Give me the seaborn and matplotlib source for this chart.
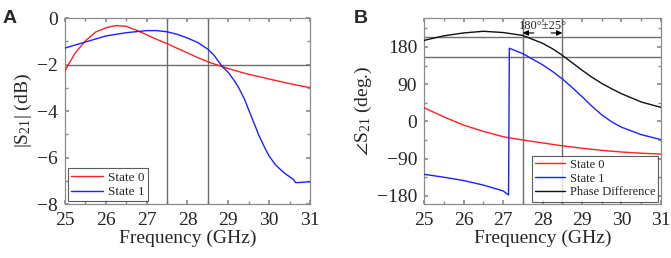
import numpy as np
import pandas as pd
import matplotlib
matplotlib.use("Agg")
import matplotlib.pyplot as plt
from matplotlib.ticker import MultipleLocator
import seaborn as sns

# ---- data ----
f_mag0 = [25.0, 25.25, 25.5, 25.75, 26.0, 26.25, 26.5, 26.75, 27.0, 27.25, 27.5, 27.75, 28.0,
          28.25, 28.5, 28.75, 29.0, 29.25, 29.5, 29.75, 30.0, 30.25, 30.5, 30.75, 31.0]
mag_state0 = [-2.26, -1.5, -0.98, -0.6, -0.42, -0.32, -0.36, -0.52, -0.72, -0.92, -1.1, -1.3, -1.5,
              -1.7, -1.88, -2.03, -2.17, -2.3, -2.42, -2.52, -2.62, -2.72, -2.82, -2.91, -2.99]
f_mag1 = [25.0, 25.5, 26.0, 26.5, 27.0, 27.25, 27.5, 27.75, 28.0, 28.25, 28.5, 28.65, 28.85, 29.0,
          29.15, 29.25, 29.4, 29.5, 29.65, 29.75, 29.9, 30.0, 30.15, 30.25, 30.4, 30.5, 30.6, 30.65,
          30.75, 31.0]
mag_state1 = [-1.29, -1.03, -0.77, -0.63, -0.54, -0.54, -0.59, -0.7, -0.86, -1.05, -1.34, -1.6,
              -2.08, -2.34, -2.7, -2.98, -3.5, -3.95, -4.6, -5.05, -5.6, -5.93, -6.3, -6.47, -6.7,
              -6.82, -6.95, -7.08, -7.07, -7.04]

f_ph0 = [25.0, 25.5, 26.0, 26.5, 27.0, 27.5, 28.0, 28.5, 29.0, 29.5, 30.0, 30.5, 31.0]
ph_state0 = [33, 11, -9, -24, -37, -45, -52, -59, -65, -70, -74, -77, -79]
f_ph1 = [25.0, 25.5, 26.0, 26.5, 27.0, 27.14, 27.16, 27.5, 28.0, 28.25, 28.5, 28.75, 29.0, 29.25,
         29.5, 29.75, 30.0, 30.5, 31.0]
ph_state1 = [-128, -135, -143, -154, -168, -178, 177, 164, 137, 121, 103, 82, 60, 37,
             16, -1, -14, -32, -44]
f_diff = [25.0, 25.5, 26.0, 26.5, 27.0, 27.5, 28.0, 28.25, 28.5, 28.75, 29.0, 29.25, 29.5,
          29.75, 30.0, 30.5, 31.0]
ph_diff = [196, 207, 214, 218, 215, 208, 189, 176, 160, 142, 124, 107, 92, 79, 67, 47, 34]

band_edges = [27.5, 28.5]
mag_limit = -2
phase_limits = [205, 155]

# ---- style ----
sns.set_theme(style="ticks")
plt.rcParams["font.family"] = ["Liberation Serif", "DejaVu Serif"]
plt.rcParams["mathtext.fontset"] = "custom"
plt.rcParams["mathtext.rm"] = "Liberation Serif"
plt.rcParams["mathtext.it"] = "Liberation Serif:italic"

fig = plt.figure(figsize=(6.71, 2.58), dpi=100)
axA = fig.add_axes([0.0969, 0.209, 0.365, 0.721])
axB = fig.add_axes([0.632, 0.209, 0.353, 0.721])

gray = "#6e6e6e"

def style_axes(ax):
    for s in ax.spines.values():
        s.set_color("#8c8c8c")
        s.set_linewidth(0.9)
    ax.tick_params(which="both", direction="in", top=True, right=True, color="#8c8c8c",
                   labelsize=14)
    ax.tick_params(axis="x", which="major", pad=6)
    ax.tick_params(axis="y", which="major", pad=5)
    ax.tick_params(which="major", length=3)
    ax.tick_params(which="minor", length=2)
    ax.xaxis.set_major_locator(MultipleLocator(1))
    ax.xaxis.set_minor_locator(MultipleLocator(0.5))
    ax.set_xlim(25, 31)
    ax.set_xlabel("Frequency (GHz)", fontsize=14, labelpad=0)

# ---- panel A ----
dfA = pd.concat([
    pd.DataFrame({"f": f_mag0, "v": mag_state0, "s": "State 0"}),
    pd.DataFrame({"f": f_mag1, "v": mag_state1, "s": "State 1"}),
])
for x in band_edges:
    axA.axvline(x, color=gray, lw=1.0, zorder=1)
axA.axhline(mag_limit, color=gray, lw=1.0, zorder=1)
sns.lineplot(data=dfA, x="f", y="v", hue="s", palette=["#ff2020", "#2020ff"], ax=axA,
             lw=1.0, zorder=3, sort=False)
axA.set_ylim(-8, 0)
axA.yaxis.set_major_locator(MultipleLocator(2))
axA.yaxis.set_minor_locator(MultipleLocator(1))
style_axes(axA)
axA.set_ylabel(r"|S$_{21}$| (dB)", fontsize=14, labelpad=2)
legA = axA.legend(loc="lower left", fontsize=9.5, frameon=True, fancybox=False,
                  borderpad=0.25, handlelength=2.4, handletextpad=0.4, labelspacing=0.15,
                  borderaxespad=0.2)
legA.get_frame().set_edgecolor("#333333")
legA.get_frame().set_linewidth(0.8)

# ---- panel B ----
dfB = pd.concat([
    pd.DataFrame({"f": f_ph0, "v": ph_state0, "s": "State 0"}),
    pd.DataFrame({"f": f_ph1, "v": ph_state1, "s": "State 1"}),
    pd.DataFrame({"f": f_diff, "v": ph_diff, "s": "Phase Difference"}),
])
for x in band_edges:
    axB.axvline(x, color=gray, lw=1.0, zorder=1)
for y in phase_limits:
    axB.axhline(y, color=gray, lw=1.0, zorder=1)
sns.lineplot(data=dfB, x="f", y="v", hue="s", palette=["#ff2020", "#2020ff", "#111111"],
             ax=axB, lw=1.0, zorder=3, sort=False)
axB.set_ylim(-200, 250)
axB.set_yticks([-180, -90, 0, 90, 180])
axB.yaxis.set_minor_locator(MultipleLocator(45))
style_axes(axB)
axB.set_ylabel(r"$\angle$S$_{21}$ (deg.)", fontsize=14, labelpad=2)
legB = axB.legend(loc="lower right", fontsize=9, frameon=True, fancybox=False,
                  borderpad=0.25, handlelength=2.4, handletextpad=0.4, labelspacing=0.15,
                  borderaxespad=0.2)
legB.get_frame().set_edgecolor("#333333")
legB.get_frame().set_linewidth(0.8)

# annotation arrows
axB.annotate("", xy=(band_edges[0], 214), xytext=(band_edges[0] + 0.28, 214),
             arrowprops=dict(arrowstyle="-|>", color="black", lw=0.8, mutation_scale=8,
                             shrinkA=0, shrinkB=0))
axB.annotate("", xy=(band_edges[1], 214), xytext=(band_edges[1] - 0.28, 214),
             arrowprops=dict(arrowstyle="-|>", color="black", lw=0.8, mutation_scale=8,
                             shrinkA=0, shrinkB=0))
axB.text(sum(band_edges) / 2, 232, "180°±25°", fontsize=9, ha="center", va="center")

# panel labels
fig.text(0.004, 0.93, "A", fontsize=14, fontweight="bold", family="Liberation Sans",
         va="center", ha="left")
fig.text(0.527, 0.93, "B", fontsize=14, fontweight="bold", family="Liberation Sans",
         va="center", ha="left")

fig.savefig("out.png", dpi=100)
